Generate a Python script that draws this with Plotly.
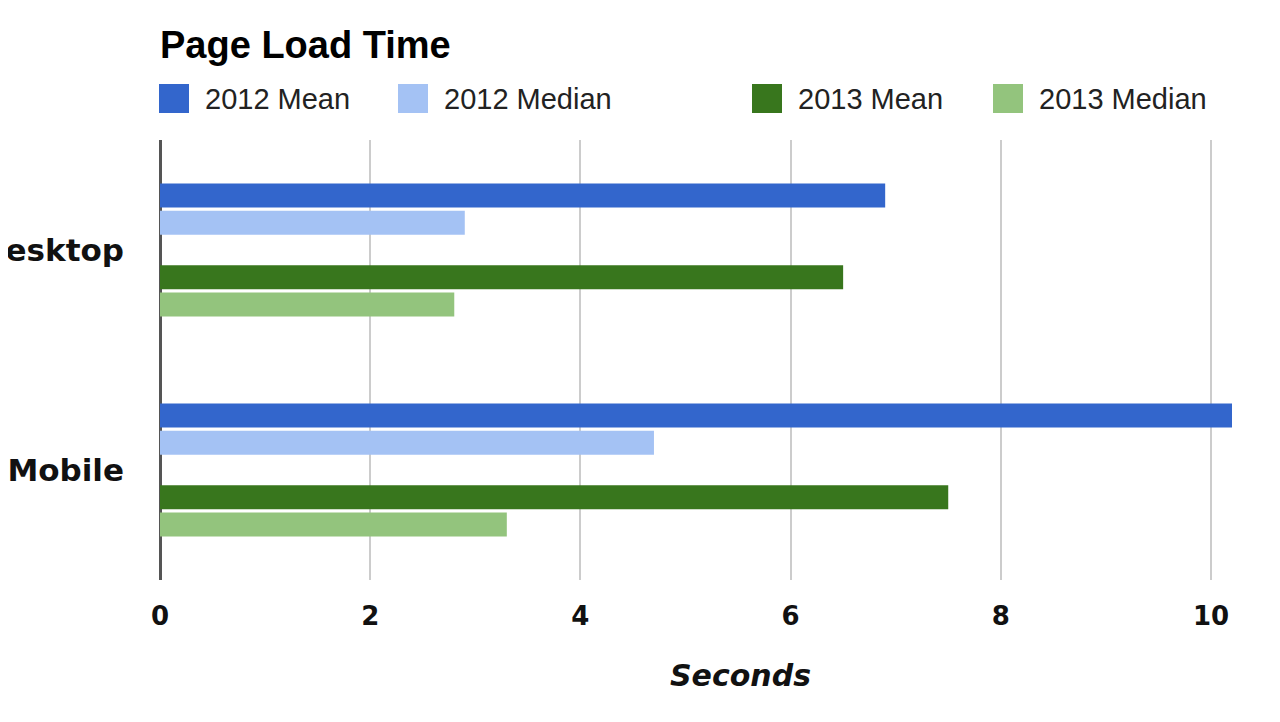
import plotly.graph_objects as go

# data
platforms = ["Desktop", "Mobile"]
series_names = ["2012 Mean", "2012 Median", "", "2013 Mean", "2013 Median"]
mean_2012 = [6.9, 10.2]
median_2012 = [2.9, 4.7]
blank = [None, None]   # empty series that makes the gap between years
mean_2013 = [6.5, 7.5]
median_2013 = [2.8, 3.3]
x_ticks = [0, 2, 4, 6, 8, 10]

colors = ["#3366cc", "#a4c2f4", "#ffffff", "#38761d", "#93c47d"]
values = [mean_2012, median_2012, blank, mean_2013, median_2013]

fig = go.Figure()
for name, vals, col in zip(series_names, values, colors):
    fig.add_trace(go.Bar(
        y=platforms, x=vals, name=name, orientation="h",
        marker=dict(color=col, line=dict(width=0)),
        showlegend=False, hoverinfo="x+name",
    ))

# hand made legend, big square swatches like the original
legend_pos = [(0, "2012 Mean", colors[0]), (239, "2012 Median", colors[1]),
              (593, "2013 Mean", colors[3]), (834, "2013 Median", colors[4])]
for dx, label, col in legend_pos:
    fig.add_shape(type="rect", xref="paper", yref="paper",
                  xsizemode="pixel", ysizemode="pixel", xanchor=0, yanchor=1,
                  x0=dx - 1, x1=dx + 29, y0=27, y1=56,
                  fillcolor=col, line=dict(width=0))
    fig.add_annotation(text=label, xref="paper", yref="paper", x=0, y=1,
                       xshift=dx + 43, yshift=41, xanchor="left", yanchor="middle",
                       showarrow=False,
                       font=dict(family="Liberation Sans, Arial", size=29, color="#222222"))

# axis title sits a bit right of the plot centre in the original
fig.add_annotation(text="<b><i>Seconds</i></b>", xref="paper", yref="paper",
                   x=0, y=0, xshift=580, yshift=-95, xanchor="center", yanchor="middle",
                   showarrow=False,
                   font=dict(family="DejaVu Sans", size=30, color="#111111"))

# page body has an 8px margin, so the margins are pulled in by 8
fig.update_layout(
    width=1280, height=722,
    margin=dict(l=152, r=56, t=132, b=150),
    paper_bgcolor="white", plot_bgcolor="white",
    barmode="group", bargap=0.38, bargroupgap=0.12,
    title=dict(text="<b>Page Load Time</b>", x=152 / 1280, xanchor="left",
               y=1 - 37 / 722, yanchor="middle",
               font=dict(family="Liberation Sans, Arial", size=38, color="#000000")),
)
fig.update_xaxes(
    range=[0, 10.2], tickvals=x_ticks, showgrid=True, gridcolor="#cccccc", gridwidth=2,
    zeroline=True, zerolinecolor="#555555", zerolinewidth=3,
    ticks="", ticklabelstandoff=18,
    tickfont=dict(family="DejaVu Sans", size=26, color="#111111", weight="bold"),
)
fig.update_yaxes(
    range=[1.5, -0.5], automargin=False, showgrid=False, zeroline=False,
    ticks="", ticklabelstandoff=35,
    tickfont=dict(family="DejaVu Sans", size=31, color="#111111", weight="bold"),
)

fig.write_html("out.html")
